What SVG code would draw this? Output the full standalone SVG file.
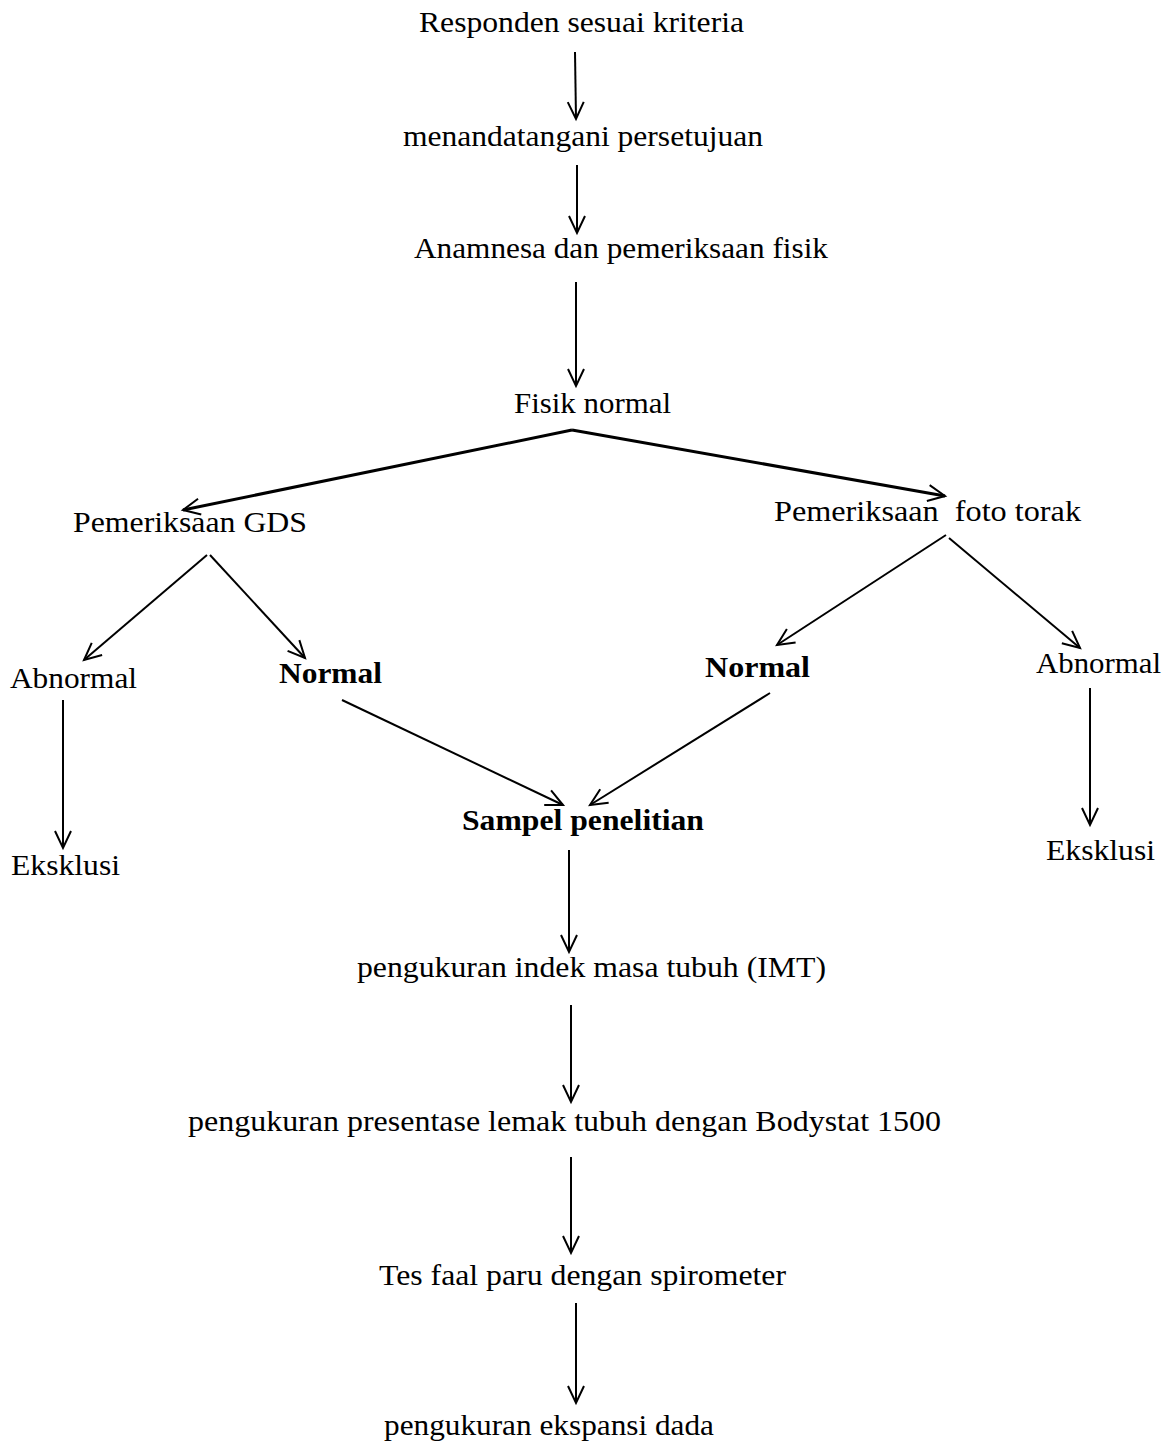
<svg xmlns="http://www.w3.org/2000/svg" width="1170" height="1451" viewBox="0 0 1170 1451">
<style>
text{font-family:"Liberation Serif","Times New Roman",serif;font-size:30px;fill:#000}
.b{font-weight:bold}
.c line{stroke:#000;stroke-width:2;fill:none}
.c .t{stroke-width:3}
</style>
<defs>
<marker id="ah" markerUnits="userSpaceOnUse" markerWidth="40" markerHeight="40" viewBox="-20 -20 40 40" refX="0" refY="0" orient="auto" overflow="visible">
<path d="M-17 -8 L0 0 L-17 8" fill="none" stroke="#000" stroke-width="2"/>
</marker>
</defs>
<rect width="1170" height="1451" fill="#fff"/>
<g id="n1"><text x="419" y="32" textLength="325" lengthAdjust="spacingAndGlyphs">Responden sesuai kriteria</text></g>
<g id="n2"><text x="403" y="146" textLength="360" lengthAdjust="spacingAndGlyphs">menandatangani persetujuan</text></g>
<g id="n3"><text x="414" y="258" textLength="414" lengthAdjust="spacingAndGlyphs">Anamnesa dan pemeriksaan fisik</text></g>
<g id="n4"><text x="514" y="413" textLength="157" lengthAdjust="spacingAndGlyphs">Fisik normal</text></g>
<g id="n5"><text x="73" y="532" textLength="234" lengthAdjust="spacingAndGlyphs">Pemeriksaan GDS</text></g>
<g id="n6"><text x="774" y="521" textLength="307" lengthAdjust="spacingAndGlyphs" xml:space="preserve">Pemeriksaan  foto torak</text></g>
<g id="n7"><text x="10" y="688" textLength="127" lengthAdjust="spacingAndGlyphs">Abnormal</text></g>
<g id="n8"><text class="b" x="279" y="683" textLength="103" lengthAdjust="spacingAndGlyphs">Normal</text></g>
<g id="n9"><text class="b" x="705" y="677" textLength="105" lengthAdjust="spacingAndGlyphs">Normal</text></g>
<g id="n10"><text x="1036" y="673" textLength="125" lengthAdjust="spacingAndGlyphs">Abnormal</text></g>
<g id="n11"><text x="11" y="875" textLength="109" lengthAdjust="spacingAndGlyphs">Eksklusi</text></g>
<g id="n12"><text class="b" x="462" y="830" textLength="242" lengthAdjust="spacingAndGlyphs">Sampel penelitian</text></g>
<g id="n13"><text x="1046" y="860" textLength="109" lengthAdjust="spacingAndGlyphs">Eksklusi</text></g>
<g id="n14"><text x="357" y="977" textLength="469" lengthAdjust="spacingAndGlyphs">pengukuran indek masa tubuh (IMT)</text></g>
<g id="n15"><text x="188" y="1131" textLength="753" lengthAdjust="spacingAndGlyphs">pengukuran presentase lemak tubuh dengan Bodystat 1500</text></g>
<g id="n16"><text x="379" y="1285" textLength="407" lengthAdjust="spacingAndGlyphs">Tes faal paru dengan spirometer</text></g>
<g id="n17"><text x="384" y="1435" textLength="330" lengthAdjust="spacingAndGlyphs">pengukuran ekspansi dada</text></g>
<g id="connectors" class="c">
<line x1="575" y1="52" x2="576" y2="119" marker-end="url(#ah)"/>
<line x1="577" y1="165" x2="577" y2="233" marker-end="url(#ah)"/>
<line x1="576" y1="282" x2="576" y2="386" marker-end="url(#ah)"/>
<line class="t" x1="572" y1="430" x2="183" y2="510" marker-end="url(#ah)"/>
<line class="t" x1="572" y1="430" x2="945" y2="496" marker-end="url(#ah)"/>
<line x1="207" y1="555" x2="84" y2="660" marker-end="url(#ah)"/>
<line x1="210" y1="555" x2="305" y2="658" marker-end="url(#ah)"/>
<line x1="946" y1="535" x2="777" y2="645" marker-end="url(#ah)"/>
<line x1="949" y1="538" x2="1080" y2="648" marker-end="url(#ah)"/>
<line x1="63" y1="700" x2="63" y2="848" marker-end="url(#ah)"/>
<line x1="342" y1="700" x2="563" y2="805" marker-end="url(#ah)"/>
<line x1="770" y1="693" x2="590" y2="805" marker-end="url(#ah)"/>
<line x1="1090" y1="688" x2="1090" y2="825" marker-end="url(#ah)"/>
<line x1="569" y1="850" x2="569" y2="952" marker-end="url(#ah)"/>
<line x1="571" y1="1005" x2="571" y2="1102" marker-end="url(#ah)"/>
<line x1="571" y1="1157" x2="571" y2="1253" marker-end="url(#ah)"/>
<line x1="576" y1="1303" x2="576" y2="1403" marker-end="url(#ah)"/>
</g>
</svg>
